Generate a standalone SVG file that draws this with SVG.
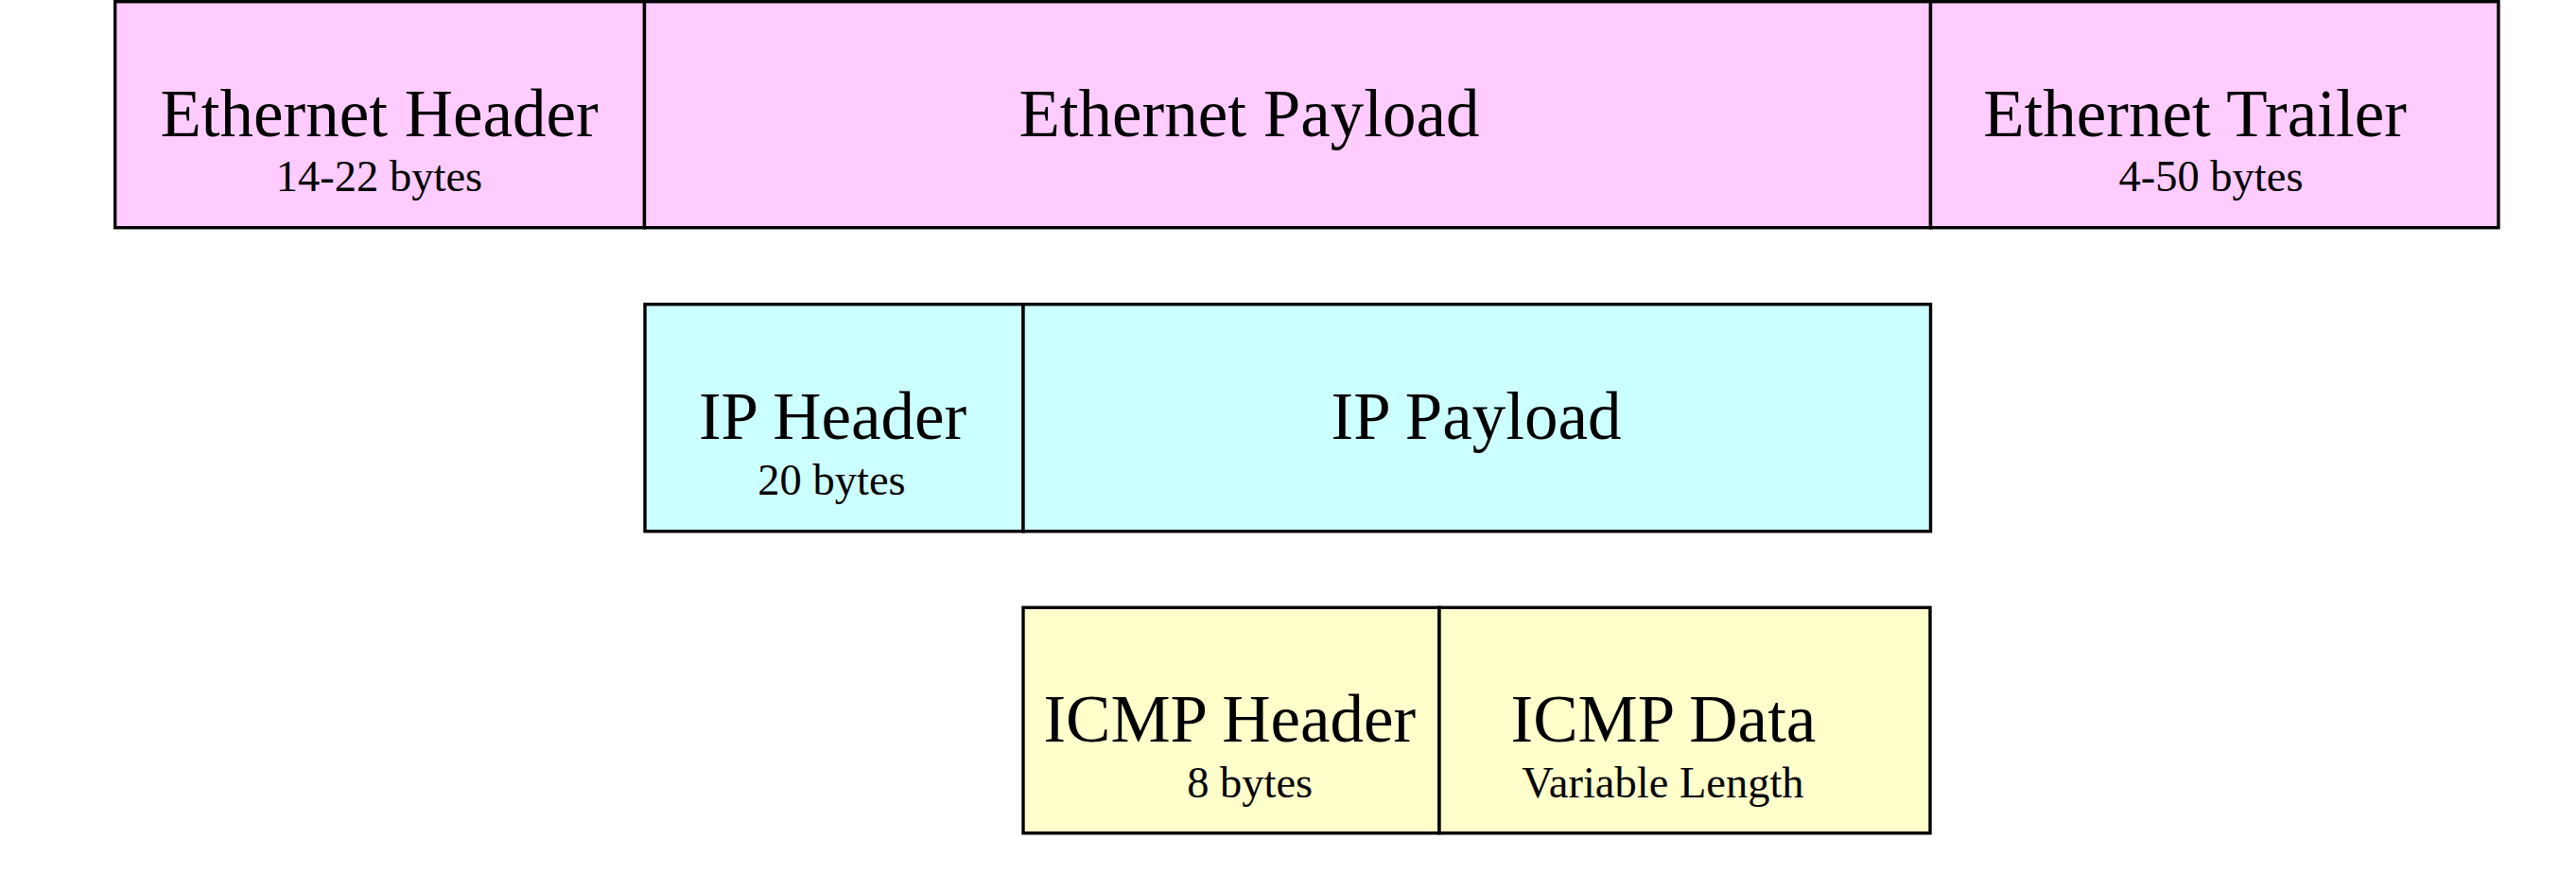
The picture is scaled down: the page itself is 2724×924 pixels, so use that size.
<svg xmlns="http://www.w3.org/2000/svg" width="2724" height="924" viewBox="0 0 2724 924">
<style>
.cell{stroke:#000;stroke-width:3.4}
.eth{fill:#FFCCFF}
.ip{fill:#CCFFFF}
.icmp{fill:#FFFFCC}
.t{font-family:"Liberation Serif","Times New Roman",serif;fill:#000;text-anchor:middle}
.main{font-size:71px}
.sub{font-size:46.5px}
</style>
<rect width="2724" height="924" fill="#fff"/>
<g id="eth-header">
<rect class="cell eth" x="121.7" y="1.7" width="559.8" height="239"/>
<text class="t main" x="401" y="143.5">Ethernet Header</text>
<text class="t sub" x="401" y="202">14-22 bytes</text>
</g>
<g id="eth-payload">
<rect class="cell eth" x="681.5" y="1.7" width="1360" height="239"/>
<text class="t main" x="1321" y="143.5">Ethernet Payload</text>
</g>
<g id="eth-trailer">
<rect class="cell eth" x="2041.5" y="1.7" width="600.5" height="239"/>
<text class="t main" x="2321" y="143.5">Ethernet Trailer</text>
<text class="t sub" x="2338" y="202">4-50 bytes</text>
</g>
<g id="ip-header">
<rect class="cell ip" x="682" y="321.7" width="400" height="240"/>
<text class="t main" x="880.5" y="463.5">IP Header</text>
<text class="t sub" x="879.5" y="522.5">20 bytes</text>
</g>
<g id="ip-payload">
<rect class="cell ip" x="1082" y="321.7" width="959.5" height="240"/>
<text class="t main" x="1561" y="463.5">IP Payload</text>
</g>
<g id="icmp-header">
<rect class="cell icmp" x="1082" y="642.3" width="440" height="238.5"/>
<text class="t main" x="1300.3" y="784">ICMP Header</text>
<text class="t sub" x="1321.7" y="842.5">8 bytes</text>
</g>
<g id="icmp-data">
<rect class="cell icmp" x="1522" y="642.3" width="519" height="238.5"/>
<text class="t main" x="1759" y="784">ICMP Data</text>
<text class="t sub" x="1758.5" y="842.5">Variable Length</text>
</g>
</svg>
